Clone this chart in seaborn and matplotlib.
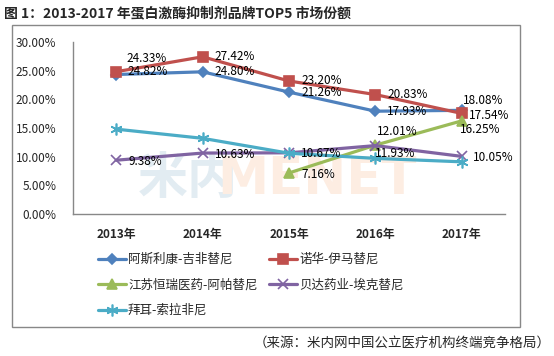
import numpy as np
import pandas as pd
import seaborn as sns
import matplotlib.pyplot as plt
from matplotlib.patches import Rectangle

# data (market share, %)
years = ["2013年", "2014年", "2015年", "2016年", "2017年"]
brands = ["阿斯利康-吉非替尼", "诺华-伊马替尼", "江苏恒瑞医药-阿帕替尼",
          "贝达药业-埃克替尼", "拜耳-索拉非尼"]
azn = [24.33, 24.80, 21.26, 17.93, 18.08]
novartis = [24.82, 27.42, 23.20, 20.83, 17.54]
hengrui = [np.nan, np.nan, 7.16, 12.01, 16.25]
betta = [9.38, 10.63, 10.67, 11.93, 10.05]
bayer = [14.8, 13.2, 10.6, 9.7, 9.1]
series = [azn, novartis, hengrui, betta, bayer]

colors = ["#4F81BD", "#C0504D", "#9BBB59", "#8064A2", "#4BACC6"]
markers = ["D", "s", "^", "x", (6, 2, 0)]
msizes = [5, 7.5, 7.5, 7, 8.5]

sns.set_style("white")
plt.rcParams['font.family'] = ['Noto Sans CJK SC', 'DejaVu Sans']

fig = plt.figure(figsize=(5.54, 3.56), dpi=100)
ax = fig.add_axes([73/554, 142/356, 432/554, 172/356])

x = np.arange(len(years))
for name, vals, c, m, ms in zip(brands, series, colors, markers, msizes):
    df = pd.DataFrame({"x": x, "y": np.array(vals) / 100})
    sns.lineplot(data=df, x="x", y="y", ax=ax, color=c, marker=m,
                 markersize=ms, linewidth=2.3, markeredgecolor=c,
                 markeredgewidth=1.2, label=name, zorder=3)

# data labels: (series index, point index, dx px, dy px)
label_pos = [
    (0, 0, 10, 16), (0, 1, 12, 0), (0, 2, 12, 0), (0, 3, 12, 0), (0, 4, 1, 10),
    (1, 0, 11, 0), (1, 1, 12, 0), (1, 2, 12, 0), (1, 3, 12, 0), (1, 4, 7, -2),
    (2, 2, 12, -2), (2, 3, 2, 14), (2, 4, -2, -9),
    (3, 0, 12, -1), (3, 1, 12, -1.5), (3, 2, 12, -1), (3, 3, 0, -8), (3, 4, 11, -1),
]
for si, pi, dx, dy in label_pos:
    v = series[si][pi]
    ax.annotate(f"{v:.2f}%", (x[pi], v / 100), xytext=(dx, dy),
                textcoords="offset pixels", ha="left", va="center",
                fontsize=8.5, color="black", zorder=5)

# faint watermark
ax.text(0.15, 0.2, "米内", transform=ax.transAxes, fontsize=36,
        fontweight="bold", color="#E2ECF2", ha="left", va="center", zorder=1)
ax.text(0.335, 0.2, "MENET", transform=ax.transAxes, fontsize=37,
        fontweight="bold", color="#FDEDE2", ha="left", va="center", zorder=1,
        family="DejaVu Sans")

ax.set_xlim(-0.5, 4.5)
ax.set_ylim(0, 0.30)
ax.set_yticks(np.arange(0, 0.301, 0.05))
ax.set_yticklabels([f"{t*100:.2f}%" for t in np.arange(0, 0.301, 0.05)])
ax.set_xticks(x)
ax.set_xticklabels(years, fontweight="bold")
ax.tick_params(axis="both", length=0, labelsize=8.5)
ax.tick_params(axis="y", pad=12)
ax.tick_params(axis="x", pad=10)
ax.set_xlabel("")
ax.set_ylabel("")
for s in ["top", "right"]:
    ax.spines[s].set_visible(False)
for s in ["left", "bottom"]:
    ax.spines[s].set_color("#888888")
    ax.spines[s].set_linewidth(1)
ax.patch.set_alpha(0)

# legend laid out row by row in two fixed columns
handles, labels = ax.get_legend_handles_labels()
leg_kw = dict(loc="upper left", bbox_transform=fig.transFigure, frameon=False,
              fontsize=9, handlelength=2.2, handletextpad=0.2,
              labelspacing=1.0, borderpad=0, borderaxespad=0)
leg1 = ax.legend([handles[i] for i in (0, 2, 4)], [labels[i] for i in (0, 2, 4)],
                 bbox_to_anchor=(98/554, 1 - 253/356), **leg_kw)
ax.add_artist(leg1)
ax.legend([handles[i] for i in (1, 3)], [labels[i] for i in (1, 3)],
          bbox_to_anchor=(269/554, 1 - 253/356), **leg_kw)

# outer frame, title, source
fig.patches.append(Rectangle((12/554, 29/356), 508/554, 302/356,
                             transform=fig.transFigure, fill=False,
                             edgecolor="#888888", linewidth=1))
fig.text(4/554, 1 - 13/356, "图 1：2013-2017 年蛋白激酶抑制剂品牌TOP5 市场份额",
         fontsize=10, fontweight="bold", ha="left", va="center")
fig.text(551/554, 1 - 343/356, "（来源：米内网中国公立医疗机构终端竞争格局）",
         fontsize=9.7, ha="right", va="center")

fig.savefig("out.png", dpi=100)
